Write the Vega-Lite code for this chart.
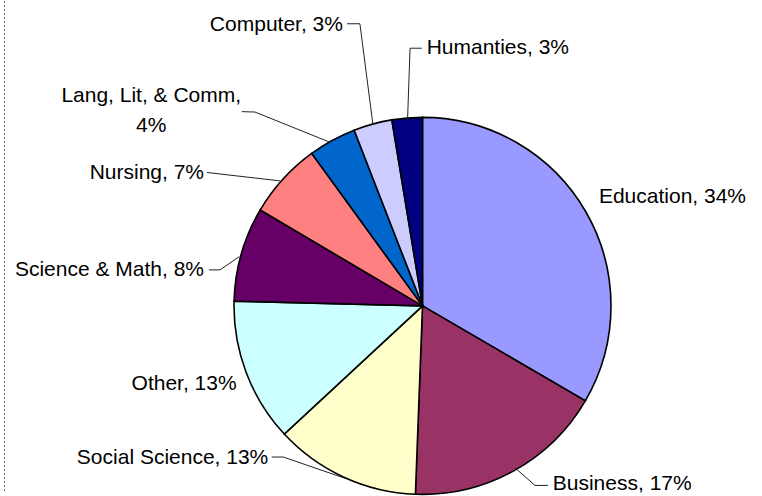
{
  "$schema": "https://vega.github.io/schema/vega-lite/v6.json",
  "width": 762,
  "height": 496,
  "autosize": {"type": "fit", "contains": "padding"},
  "padding": 0,
  "background": "#ffffff",
  "config": {"view": {"stroke": null}},
  "datasets": {
    "slices": [
      {"category": "Education", "value": 33.4, "label": "Education, 34%"},
      {"category": "Business", "value": 17.2, "label": "Business, 17%"},
      {"category": "Social Science", "value": 12.5, "label": "Social Science, 13%"},
      {"category": "Other", "value": 12.3, "label": "Other, 13%"},
      {"category": "Science & Math", "value": 8.1, "label": "Science & Math, 8%"},
      {"category": "Nursing", "value": 6.5, "label": "Nursing, 7%"},
      {"category": "Lang, Lit, & Comm", "value": 4.1, "label": "Lang, Lit, & Comm,\n4%"},
      {"category": "Computer", "value": 3.3, "label": "Computer, 3%"},
      {"category": "Humanties", "value": 2.6, "label": "Humanties, 3%"}
    ],
    "labels": [
      {"category": "Education", "u": 93.6, "v": 55.2},
      {"category": "Business", "u": 69.1, "v": -98.9},
      {"category": "Social Science", "u": -81.8, "v": -84.5},
      {"category": "Other", "u": -98.6, "v": -45.3},
      {"category": "Science & Math", "u": -115.9, "v": 15.8},
      {"category": "Nursing", "u": -115.9, "v": 67.9},
      {"category": "Lang, Lit, & Comm", "u": -143.9, "v": 109.4},
      {"category": "Computer", "u": -42.2, "v": 147.1},
      {"category": "Humanties", "u": 2.2, "v": 135.1}
    ],
    "leaders": [
      {"category": "Computer", "seq": 1, "u": -40.05, "v": 151.2},
      {"category": "Computer", "seq": 2, "u": -33.2, "v": 151.2},
      {"category": "Computer", "seq": 3, "u": -26.3, "v": 97.1},
      {"category": "Humanties", "seq": 1, "u": -0.4, "v": 138.1},
      {"category": "Humanties", "seq": 2, "u": -6.6, "v": 138.1},
      {"category": "Humanties", "seq": 3, "u": -7.9, "v": 100.3},
      {"category": "Lang, Lit, & Comm", "seq": 1, "u": -95.9, "v": 104.1},
      {"category": "Lang, Lit, & Comm", "seq": 2, "u": -88.9, "v": 103.9},
      {"category": "Lang, Lit, & Comm", "seq": 3, "u": -49.1, "v": 87.7},
      {"category": "Nursing", "seq": 1, "u": -114.3, "v": 71.5},
      {"category": "Nursing", "seq": 2, "u": -75.6, "v": 67.0},
      {"category": "Science & Math", "seq": 1, "u": -113.3, "v": 19.3},
      {"category": "Science & Math", "seq": 2, "u": -107.4, "v": 19.3},
      {"category": "Science & Math", "seq": 3, "u": -97.2, "v": 26.4},
      {"category": "Social Science", "seq": 1, "u": -80.0, "v": -81.0},
      {"category": "Social Science", "seq": 2, "u": -73.8, "v": -81.0},
      {"category": "Social Science", "seq": 3, "u": -40.2, "v": -92.7},
      {"category": "Business", "seq": 1, "u": 66.6, "v": -96.2},
      {"category": "Business", "seq": 2, "u": 59.7, "v": -96.2},
      {"category": "Business", "seq": 3, "u": 49.1, "v": -86.8}
    ]
  },
  "layer": [
    {
      "data": {"name": "slices"},
      "mark": {"type": "arc", "outerRadius": 188.5, "stroke": "#000000", "strokeWidth": 1.6},
      "encoding": {
        "theta": {"field": "value", "type": "quantitative", "stack": true},
        "order": {"field": "value", "type": "quantitative", "sort": "descending"},
        "color": {
          "field": "category",
          "type": "nominal",
          "legend": null,
          "scale": {
            "domain": ["Education", "Business", "Social Science", "Other", "Science & Math", "Nursing", "Lang, Lit, & Comm", "Computer", "Humanties"],
            "range": ["#9999FF", "#993366", "#FFFFCC", "#CCFFFF", "#660066", "#FF8080", "#0066CC", "#CCCCFF", "#000080"]
          }
        },
        "x": {"datum": 0, "type": "quantitative", "scale": {"domain": [-224.14, 180.11], "nice": false, "zero": false}, "axis": null},
        "y": {"datum": 0, "type": "quantitative", "scale": {"domain": [-99.73, 163.40], "nice": false, "zero": false}, "axis": null}
      }
    },
    {
      "data": {"name": "leaders"},
      "mark": {"type": "line", "stroke": "#222222", "strokeWidth": 1, "interpolate": "linear"},
      "encoding": {
        "x": {"field": "u", "type": "quantitative", "scale": {"domain": [-224.14, 180.11], "nice": false, "zero": false}, "axis": null},
        "y": {"field": "v", "type": "quantitative", "scale": {"domain": [-99.73, 163.40], "nice": false, "zero": false}, "axis": null},
        "detail": {"field": "category", "type": "nominal"},
        "order": {"field": "seq", "type": "quantitative"}
      }
    },
    {
      "data": {"name": "labels"},
      "transform": [
        {"lookup": "category", "from": {"data": {"name": "slices"}, "key": "category", "fields": ["label"]}},
        {"filter": {"field": "category", "oneOf": ["Education", "Business", "Humanties"]}}
      ],
      "mark": {"type": "text", "align": "left", "baseline": "alphabetic", "font": "Liberation Sans", "fontSize": 21, "color": "#000000"},
      "encoding": {
        "x": {"field": "u", "type": "quantitative", "scale": {"domain": [-224.14, 180.11], "nice": false, "zero": false}, "axis": null},
        "y": {"field": "v", "type": "quantitative", "scale": {"domain": [-99.73, 163.40], "nice": false, "zero": false}, "axis": null},
        "text": {"field": "label", "type": "nominal"}
      }
    },
    {
      "data": {"name": "labels"},
      "transform": [
        {"lookup": "category", "from": {"data": {"name": "slices"}, "key": "category", "fields": ["label"]}},
        {"filter": {"field": "category", "oneOf": ["Social Science", "Other", "Science & Math", "Nursing", "Computer"]}}
      ],
      "mark": {"type": "text", "align": "right", "baseline": "alphabetic", "font": "Liberation Sans", "fontSize": 21, "color": "#000000"},
      "encoding": {
        "x": {"field": "u", "type": "quantitative", "scale": {"domain": [-224.14, 180.11], "nice": false, "zero": false}, "axis": null},
        "y": {"field": "v", "type": "quantitative", "scale": {"domain": [-99.73, 163.40], "nice": false, "zero": false}, "axis": null},
        "text": {"field": "label", "type": "nominal"}
      }
    },
    {
      "data": {"name": "labels"},
      "transform": [
        {"lookup": "category", "from": {"data": {"name": "slices"}, "key": "category", "fields": ["label"]}},
        {"filter": {"field": "category", "oneOf": ["Lang, Lit, & Comm"]}}
      ],
      "mark": {"type": "text", "align": "center", "baseline": "alphabetic", "font": "Liberation Sans", "fontSize": 21, "lineHeight": 30, "lineBreak": "\n", "color": "#000000"},
      "encoding": {
        "x": {"field": "u", "type": "quantitative", "scale": {"domain": [-224.14, 180.11], "nice": false, "zero": false}, "axis": null},
        "y": {"field": "v", "type": "quantitative", "scale": {"domain": [-99.73, 163.40], "nice": false, "zero": false}, "axis": null},
        "text": {"field": "label", "type": "nominal"}
      }
    },
    {
      "data": {"values": [{"edge": -221.75}]},
      "mark": {"type": "rule", "stroke": "#7a5a9a", "strokeWidth": 1, "strokeDash": [2, 2]},
      "encoding": {
        "x": {"field": "edge", "type": "quantitative", "scale": {"domain": [-224.14, 180.11], "nice": false, "zero": false}, "axis": null}
      }
    }
  ]
}
